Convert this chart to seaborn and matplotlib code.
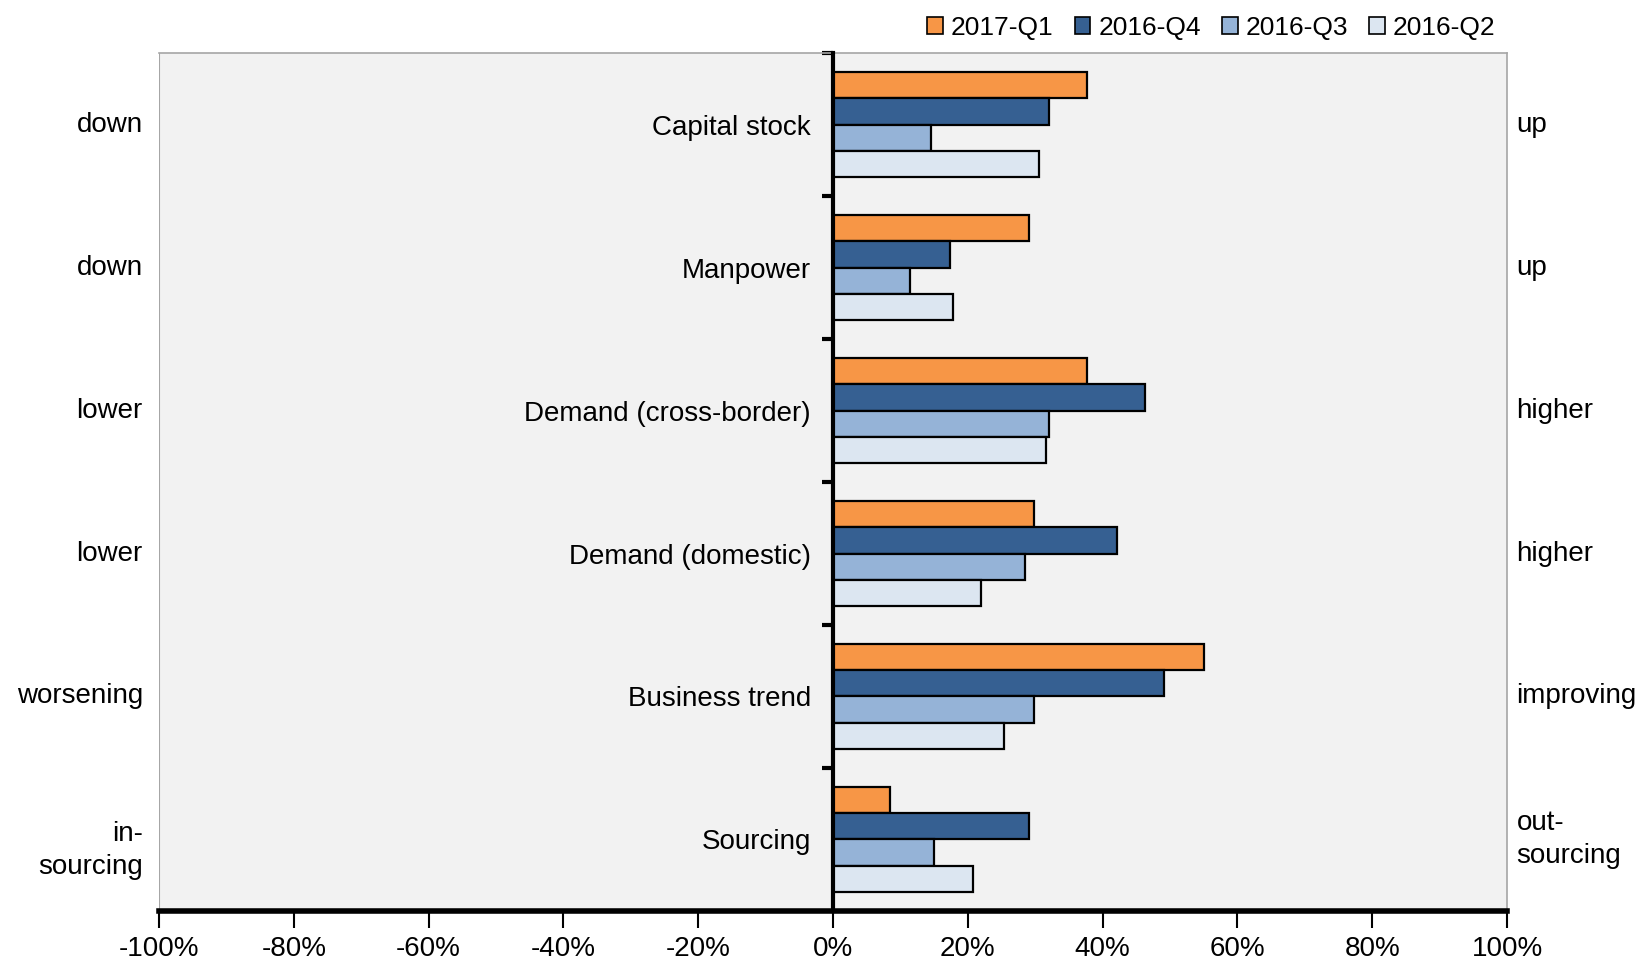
import pandas as pd
import matplotlib.pyplot as plt
import seaborn as sns
from matplotlib.patches import Patch
from matplotlib.ticker import FixedLocator, PercentFormatter
import matplotlib.transforms as mtransforms

categories = ["Capital stock", "Manpower", "Demand (cross-border)",
              "Demand (domestic)", "Business trend", "Sourcing"]
left_labels = ["down", "down", "lower", "lower", "worsening", "in-\nsourcing"]
right_labels = ["up", "up", "higher", "higher", "improving", "out-\nsourcing"]
series = ["2017-Q1", "2016-Q4", "2016-Q3", "2016-Q2"]

q1_2017 = [37.7, 29.1, 37.7, 29.8, 55.0, 8.4]
q4_2016 = [32.1, 17.4, 46.3, 42.1, 49.1, 29.1]
q3_2016 = [14.6, 11.4, 32.1, 28.5, 29.8, 15.0]
q2_2016 = [30.5, 17.8, 31.6, 22.0, 25.4, 20.7]

colors = ["#F79646", "#366092", "#95B3D7", "#DCE6F1"]

df = pd.DataFrame({
    "category": categories * 4,
    "series": [s for s in series for _ in categories],
    "value": q1_2017 + q4_2016 + q3_2016 + q2_2016,
})

sns.set_style("white")
plt.rcParams["font.family"] = ["Liberation Sans", "DejaVu Sans"]
plt.rcParams["axes.unicode_minus"] = False
plt.rcParams["text.color"] = "black"
plt.rcParams["xtick.color"] = "black"
plt.rcParams["ytick.color"] = "black"

fig = plt.figure(figsize=(16.48, 9.65), dpi=100)
ax = fig.add_axes([0.0965, 0.056, 0.818, 0.889])
ax.set_facecolor("#F2F2F2")

sns.barplot(data=df, y="category", x="value", hue="series", orient="h",
            order=categories, hue_order=series, palette=colors, saturation=1,
            width=0.73, edgecolor="black", linewidth=1.6, ax=ax)
ax.get_legend().remove()

ax.set_xlim(-100, 100)
ax.set_ylim(len(categories) - 0.5, -0.5)
ax.set_xlabel("")
ax.set_ylabel("")

# x axis
ax.set_xticks(range(-100, 101, 20))
ax.xaxis.set_major_formatter(PercentFormatter(decimals=0))
ax.tick_params(axis="x", direction="out", length=12, width=1.5, colors="black",
               labelsize=20, pad=6, bottom=True)

# zero line carries category labels
ax.spines["left"].set_position(("data", 0))
ax.spines["left"].set_linewidth(3)
ax.spines["left"].set_color("black")
ax.spines["left"].set_zorder(5)
ax.spines["bottom"].set_linewidth(4)
ax.spines["bottom"].set_color("black")
for s in ["top", "right"]:
    ax.spines[s].set_visible(True)
    ax.spines[s].set_color("#A6A6A6")
    ax.spines[s].set_linewidth(1.2)
ax.axvline(-100, color="#A6A6A6", linewidth=1.5, zorder=0)

ax.tick_params(axis="y", which="major", length=0, labelsize=20, pad=16, left=True)
ax.yaxis.set_minor_locator(FixedLocator([i - 0.5 for i in range(len(categories))]))
ax.tick_params(axis="y", which="minor", direction="out", length=8, width=3,
               color="black", left=True)

# outer side labels (left two-line label sits a little lower, as in the source)
trans = mtransforms.blended_transform_factory(ax.transAxes, ax.transData)
for i, (lt, rt) in enumerate(zip(left_labels, right_labels)):
    dy = 0.08 if "\n" in lt else 0
    ax.text(-0.012, i + dy, lt, transform=trans, ha="right", va="center",
            fontsize=20, linespacing=1.35)
    ax.text(1.007, i, rt, transform=trans, ha="left", va="center",
            fontsize=20, linespacing=1.35)

handles = [Patch(facecolor=c, edgecolor="black", linewidth=1.2) for c in colors]
fig.legend(handles, series, loc="upper right", bbox_to_anchor=(0.922, 1.008),
           ncol=4, frameon=False, fontsize=19, handlelength=0.6, handleheight=0.6,
           columnspacing=0.8, handletextpad=0.3)

fig.savefig("out.png", dpi=100)
